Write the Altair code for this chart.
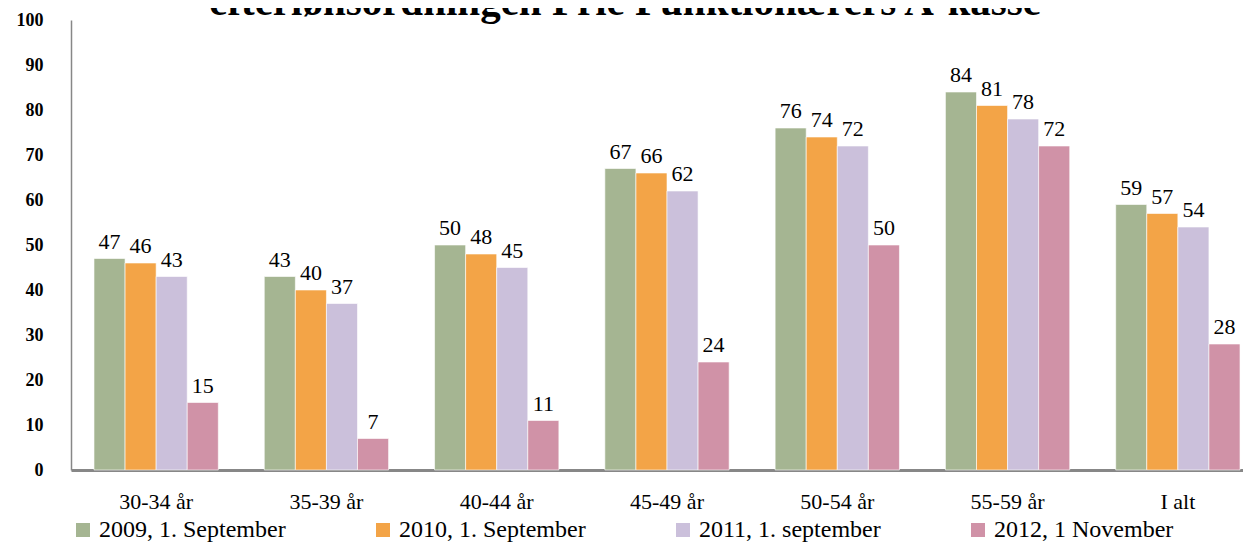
import altair as alt
import pandas as pd

categories = ["30-34 år", "35-39 år", "40-44 år", "45-49 år", "50-54 år", "55-59 år", "I alt"]
series = ["2009, 1. September", "2010, 1. September", "2011, 1. september", "2012, 1 November"]
v2009 = [47, 43, 50, 67, 76, 84, 59]
v2010 = [46, 40, 48, 66, 74, 81, 57]
v2011 = [43, 37, 45, 62, 72, 78, 54]
v2012 = [15, 7, 11, 24, 50, 72, 28]
colors = ["#A5B592", "#F3A447", "#CBC0DB", "#D092A7"]
y_ticks = list(range(0, 101, 10))
title_text = "efterlønsordningen Frie Funktionærers A-kasse"

rows = []
for s, vals in zip(series, [v2009, v2010, v2011, v2012]):
    for c, v in zip(categories, vals):
        rows.append({"Aldersgruppe": c, "Serie": s, "Andel": v})
df = pd.DataFrame(rows)

FONT = "Liberation Serif"

x = alt.X(
    "Aldersgruppe:N", sort=categories, title=None,
    scale=alt.Scale(range=[0, 1192], paddingInner=0.27, paddingOuter=0.135),
    axis=alt.Axis(labelAngle=0, labelFontSize=22, labelFont=FONT, labelColor="black",
                  labelPadding=21, ticks=False, domainColor="#878787", domainWidth=3),
)
y = alt.Y(
    "Andel:Q", title=None,
    scale=alt.Scale(domain=[0, 100]),
    axis=alt.Axis(values=y_ticks, labelFontSize=18, labelFont=FONT, labelFontWeight="bold",
                  labelColor="black", labelPadding=28, ticks=False, grid=False,
                  domainColor="#878787", domainWidth=1.5),
)
xo = alt.XOffset("Serie:N", sort=series, scale=alt.Scale(paddingInner=0, paddingOuter=0))
color = alt.Color(
    "Serie:N", sort=series,
    scale=alt.Scale(domain=series, range=colors),
    legend=alt.Legend(title=None, orient="none", legendX=0, legendY=498,
                      direction="horizontal", symbolType="square", symbolSize=196,
                      symbolStrokeWidth=0, labelFontSize=24, labelFont=FONT,
                      labelColor="black", columnPadding=85, labelOffset=4,
                      labelLimit=400),
)

base = alt.Chart(df).encode(x=x, xOffset=xo)
bars = base.mark_bar(stroke="white", strokeWidth=0.6).encode(y=y, color=color)
labels = base.mark_text(dy=-5, baseline="bottom", fontSize=22, font=FONT, color="black").encode(
    y=alt.Y("Andel:Q"), text=alt.Text("Andel:Q")
)

chart = (
    alt.layer(bars, labels)
    .properties(
        width=1172, height=450,
        title=alt.TitleParams(title_text, fontSize=41, font=FONT, fontWeight="bold",
                              anchor="middle", baseline="alphabetic", offset=-45, dx=-32,
                              color="black"),
        autosize=alt.AutoSizeParams(type="none"),
        padding={"left": 63, "top": 12, "right": 0, "bottom": 72},
    )
    .configure_view(stroke=None)
)

chart.save("out.html", embed_options={"renderer": "svg", "actions": False})
